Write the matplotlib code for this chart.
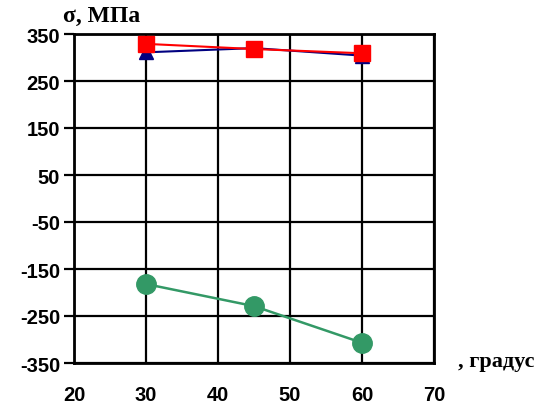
import numpy as np
import matplotlib.pyplot as plt

plt.rcParams['axes.unicode_minus'] = False

# angle, degrees
angles = [30, 45, 60]
# stress, MPa
sigma_red = [329, 318, 309]
sigma_blue = [311, 320, 304]
sigma_green = [-182, -229, -307]

xticks = [20, 30, 40, 50, 60, 70]
yticks = [-350, -250, -150, -50, 50, 150, 250, 350]

fig = plt.figure(figsize=(5.49, 4.10), dpi=100)
ax = fig.add_axes([74 / 549, 1 - 364 / 410, 360 / 549, 329 / 410])

ax.plot(angles, sigma_blue, color='#000080', lw=1.5, marker='^', ms=10, zorder=3)
ax.plot(angles, sigma_red, color='#ff0000', lw=1.5, marker='s', ms=11, zorder=4)
ax.plot(angles, sigma_green, color='#339966', lw=1.8, marker='o', ms=14, zorder=3)

ax.set_xlim(20, 70)
ax.set_ylim(-350, 350)
ax.set_xticks(xticks)
ax.set_yticks(yticks)
ax.grid(True, color='black', lw=1.6)
ax.set_axisbelow(True)
for s in ax.spines.values():
    s.set_linewidth(2)
ax.tick_params(axis='y', length=7, width=1.6, direction='out', pad=3)
ax.tick_params(axis='x', length=0, pad=16)
for lab in ax.get_xticklabels() + ax.get_yticklabels():
    lab.set_fontfamily('Liberation Sans')
    lab.set_fontweight('bold')
    lab.set_fontsize(14.5)

fig.text(63 / 549, 1 - 16 / 410, 'σ, МПа', family='Liberation Serif', weight='bold',
         fontsize=17, va='center', ha='left')
fig.text(458 / 549, 1 - 362 / 410, ', градус', family='Liberation Serif', weight='bold',
         fontsize=16, va='center', ha='left')

fig.savefig('out.png', dpi=100)
